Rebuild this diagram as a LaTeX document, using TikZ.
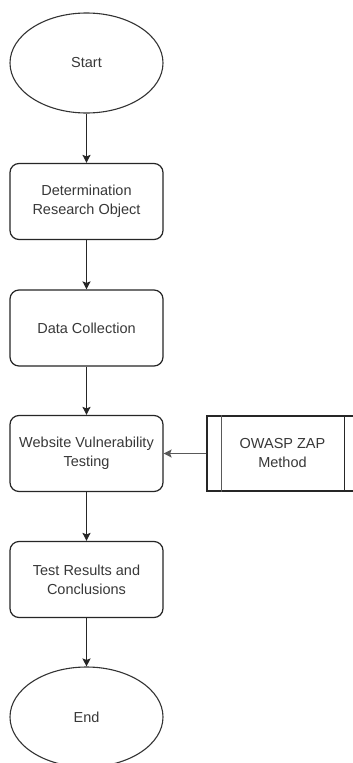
\documentclass[tikz,border=0pt]{standalone}
\usepackage{fontspec}
\setmainfont{Liberation Sans}
\usetikzlibrary{shapes.geometric,arrows.meta}

\tikzset{
  x=1pt, y=-1pt,
  flow/.style={line width=1.3pt, draw=black!85, -{Stealth[length=8pt,width=8pt,inset=1.5pt]}},
  terminal/.style={ellipse, draw=black!80, line width=1.1pt, minimum width=153pt, minimum height=100pt,
    inner sep=0pt, font=\fontsize{14.5}{19}\selectfont, text=black!78},
  stepbox/.style={rectangle, rounded corners=9pt, draw=black!85, line width=1.2pt, minimum width=153pt,
    minimum height=76pt, inner sep=0pt, align=center, font=\fontsize{14.5}{19}\selectfont, text=black!78},
  procbox/.style={rectangle, draw=black!85, line width=1.2pt, minimum width=160pt, minimum height=75pt,
    inner sep=0pt, align=center, font=\fontsize{14.5}{19}\selectfont, text=black!78},
}

\begin{document}
\begin{tikzpicture}
  \path[use as bounding box, clip] (0,0) rectangle (353,763);
  \fill[white] (0,0) rectangle (353,763);

  % main flow
  \node[terminal] (start) at (86.5,63) {Start};
  \node[stepbox] (det) at (86.5,201.5) {Determination\\Research Object};
  \node[stepbox] (data) at (86.5,328) {Data Collection};
  \node[stepbox] (web) at (86.5,453.5) {Website Vulnerability\\Testing};
  \node[stepbox] (res) at (86.5,579.5) {Test Results and\\Conclusions};
  \node[terminal] (end) at (86.5,717) {End};

  % predefined process, running past the right edge of the page
  \node[procbox] (zap) at (287,453.5) {};
  \node[font=\fontsize{14.5}{19}\selectfont, text=black!78, align=center] (zaptext) at (282.5,453.5) {OWASP ZAP\\Method};
  \draw[line width=1.2pt, draw=black!65] ([xshift=15pt]zap.north west) -- ([xshift=15pt]zap.south west);
  \draw[line width=1.2pt, draw=black!85] ([xshift=-23pt]zap.north east) -- ([xshift=-23pt]zap.south east);

  % connectors
  \draw[flow] (start) -- (det);
  \draw[flow] (det) -- (data);
  \draw[flow] (data) -- (web);
  \draw[flow] (web) -- (res);
  \draw[flow] (res) -- (end);
  \draw[flow, draw=black!65] (zap) -- (web);
\end{tikzpicture}
\end{document}
